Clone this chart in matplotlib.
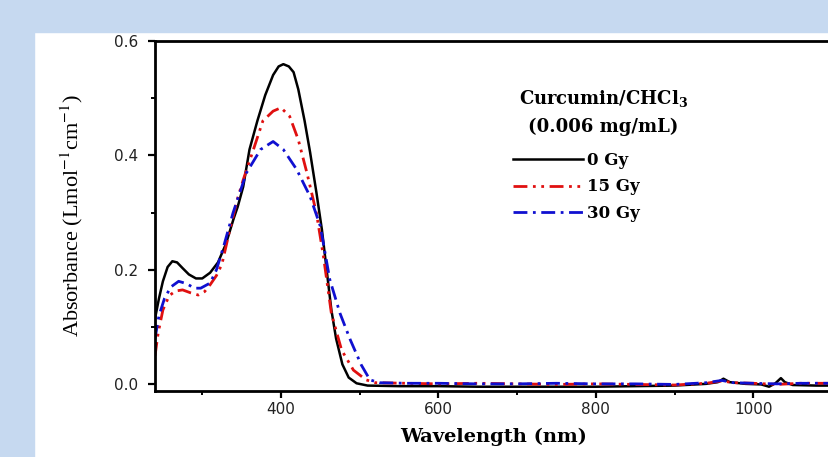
import matplotlib
matplotlib.use('Agg')
import matplotlib.pyplot as plt
from matplotlib.patches import Rectangle

# 0 Gy
wl_0 = [240, 245, 250, 256, 262, 268, 275, 283, 292, 300, 310, 320, 330, 340, 345, 352,
        360, 370, 380, 390, 397, 403, 410, 416, 422, 430, 437, 445, 452, 458, 464, 470,
        478, 486, 496, 510, 550, 600, 650, 700, 750, 800, 850, 900, 940, 955, 962, 970,
        990, 1010, 1020, 1028, 1035, 1040, 1050, 1080, 1100]
abs_0 = [0.115, 0.15, 0.18, 0.205, 0.215, 0.213, 0.203, 0.192, 0.185, 0.185, 0.195, 0.213,
         0.245, 0.29, 0.31, 0.345, 0.41, 0.46, 0.505, 0.54, 0.555, 0.559, 0.555, 0.545,
         0.515, 0.46, 0.405, 0.335, 0.27, 0.2, 0.13, 0.08, 0.035, 0.012, 0.002, -0.002,
         -0.003, -0.003, -0.004, -0.004, -0.004, -0.004, -0.003, -0.002, 0.001, 0.004,
         0.01, 0.004, 0.001, 0.0, -0.004, 0.002, 0.011, 0.004, -0.001, -0.002, -0.002]

# 15 Gy
wl_15 = [240, 244, 250, 258, 266, 275, 285, 295, 303, 310, 318, 325, 335, 345, 352, 365,
         377, 390, 400, 411, 422, 433, 445, 454, 464, 477, 492, 508, 520, 560, 600, 650,
         700, 750, 800, 850, 900, 940, 960, 975, 1000, 1030, 1060, 1100]
abs_15 = [0.05, 0.09, 0.13, 0.155, 0.163, 0.165, 0.16, 0.156, 0.162, 0.174, 0.19, 0.21,
          0.27, 0.325, 0.357, 0.41, 0.46, 0.477, 0.483, 0.468, 0.427, 0.369, 0.299, 0.223,
          0.124, 0.06, 0.025, 0.008, 0.003, 0.002, 0.001, 0.002, 0.001, 0.0, 0.001, 0.0,
          -0.001, 0.002, 0.006, 0.003, 0.002, 0.0, 0.002, 0.002]

# 30 Gy
wl_30 = [240, 245, 252, 260, 270, 280, 290, 298, 310, 318, 328, 339, 356, 374, 390, 403,
         420, 437, 450, 462, 475, 488, 502, 513, 525, 560, 600, 650, 700, 750, 800, 850,
         900, 940, 960, 975, 1000, 1030, 1060, 1100]
abs_30 = [0.08, 0.12, 0.15, 0.17, 0.18, 0.176, 0.168, 0.168, 0.177, 0.2, 0.245, 0.299,
          0.369, 0.41, 0.424, 0.41, 0.375, 0.328, 0.276, 0.183, 0.124, 0.078, 0.034, 0.008,
          0.003, 0.002, 0.002, 0.001, 0.001, 0.002, 0.001, 0.001, 0.0, 0.003, 0.007, 0.003,
          0.002, 0.001, 0.002, 0.002]

fig = plt.figure(figsize=(8.29, 4.57), dpi=100)
fig.patch.set_facecolor('white')

# light blue frame on top and left
band = '#c6d9f0'
fig.patches.append(Rectangle((0, 0.93), 1, 0.07, transform=fig.transFigure, color=band, zorder=-1))
fig.patches.append(Rectangle((0, 0), 0.041, 1, transform=fig.transFigure, color=band, zorder=-1))

ax = fig.add_axes([0.187, 0.145, 0.8167, 0.766])

ax.plot(wl_0, abs_0, color='black', lw=1.8, label='0 Gy')
ax.plot(wl_15, abs_15, color='#e01010', lw=2.0, linestyle=(0, (5, 2, 1, 2, 1, 2)), label='15 Gy')
ax.plot(wl_30, abs_30, color='#1010d0', lw=2.0, linestyle=(0, (5, 2, 1, 2)), label='30 Gy')

ax.set_xlim(240, 1100)
ax.set_ylim(-0.011, 0.6)
ax.set_xticks([400, 600, 800, 1000])
ax.set_xticks([300, 500, 700, 900, 1100], minor=True)
ax.set_yticks([0.0, 0.2, 0.4, 0.6])
ax.set_yticklabels(['0.0', '0.2', '0.4', '0.6'])
ax.set_yticks([0.1, 0.3, 0.5], minor=True)

for s in ax.spines.values():
    s.set_linewidth(2.0)
ax.tick_params(which='major', direction='out', length=5, width=1.6, labelsize=11,
               labelcolor='#222222')
ax.tick_params(which='minor', direction='out', length=3, width=1.4)
ax.tick_params(axis='y', pad=7)
ax.tick_params(axis='x', pad=3)

ax.set_xlabel('Wavelength (nm)', family='DejaVu Serif', fontweight='bold', fontsize=14)
ax.set_ylabel('Absorbance (Lmol$^{-1}$cm$^{-1}$)', family='Liberation Serif', fontsize=16,
              math_fontfamily='stix')
ax.xaxis.set_label_coords(0.5, -0.105)
ax.yaxis.set_label_coords(-0.103, 0.5)

ax.text(0.662, 0.836, r'Curcumin/CHCl$_{\mathbf{3}}$', transform=ax.transAxes, ha='center',
        va='center', family='DejaVu Serif', fontweight='bold', fontsize=13,
        math_fontfamily='dejavuserif')
ax.text(0.662, 0.753, '(0.006 mg/mL)', transform=ax.transAxes, ha='center', va='center',
        family='DejaVu Serif', fontweight='bold', fontsize=13)

ax.legend(loc='center left', bbox_to_anchor=(0.529, 0.582), frameon=False,
          prop={'family': 'DejaVu Serif', 'weight': 'bold', 'size': 12},
          handlelength=4.2, handletextpad=0.2, borderpad=0, borderaxespad=0,
          labelspacing=0.55)

fig.savefig('out.png', dpi=100)
